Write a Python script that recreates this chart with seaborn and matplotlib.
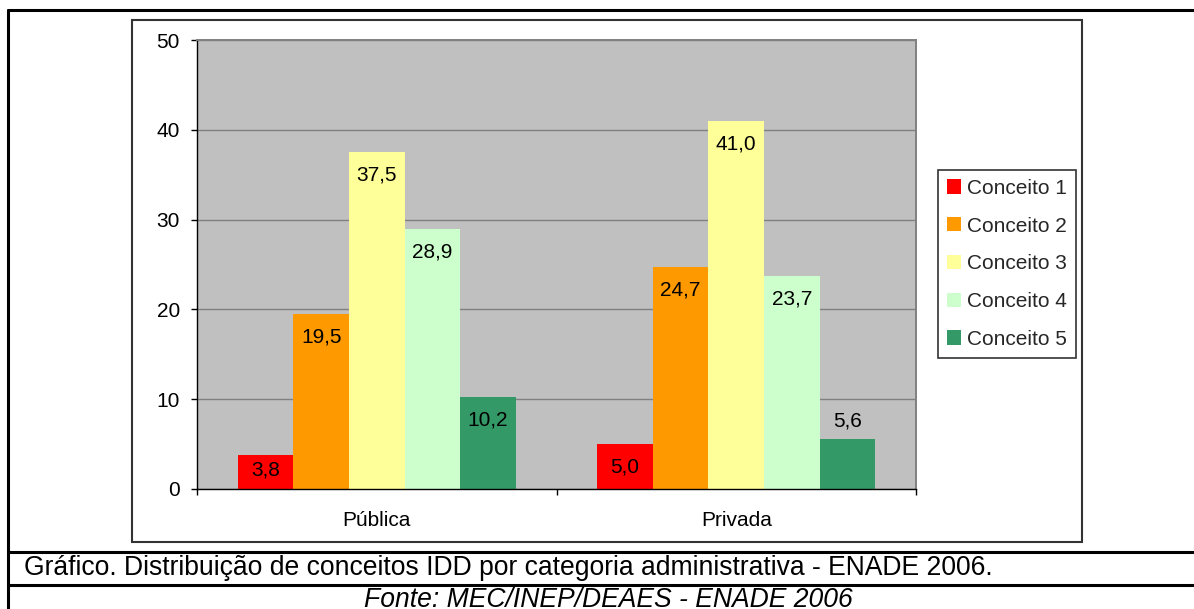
import matplotlib
matplotlib.use("Agg")
import matplotlib.pyplot as plt
from matplotlib.lines import Line2D
from matplotlib.patches import Rectangle
import seaborn as sns
import pandas as pd

#--------------------------------------- DATA ---------------------------------------#
categorias = ["Pública", "Privada"]
conceitos = ["Conceito 1", "Conceito 2", "Conceito 3", "Conceito 4", "Conceito 5"]
publica = [3.8, 19.5, 37.5, 28.9, 10.2]
privada = [5.0, 24.7, 41.0, 23.7, 5.6]
y_ticks = [0, 10, 20, 30, 40, 50]

titulo = "Gráfico. Distribuição de conceitos IDD por categoria administrativa - ENADE 2006."
fonte = "Fonte: MEC/INEP/DEAES - ENADE 2006"

#--------------------------------------- STYLE ---------------------------------------#
clr = ["#FF0000", "#FF9900", "#FFFF99", "#CCFFCC", "#339966"]
BG = "#C0C0C0"
GRID = "#808080"
W, H = 1194, 609
FS = 15
FS_CAP = 19.1

sns.set_theme(style="white")
plt.rcParams["font.family"] = ["Liberation Sans", "DejaVu Sans"]

rows = []
for cat, vals in zip(categorias, [publica, privada]):
    for c, v in zip(conceitos, vals):
        rows.append({"categoria": cat, "conceito": c, "valor": v})
df = pd.DataFrame(rows)

fig = plt.figure(figsize=(W / 100, H / 100), dpi=100)
fig.patch.set_facecolor("white")

def fx(px):
    return px / W

def fy(py):
    return 1 - py / H

ax = fig.add_axes([fx(197), fy(489), fx(916) - fx(197), fy(40) - fy(489)])
ax.set_facecolor(BG)

sns.barplot(data=df, x="categoria", y="valor", hue="conceito", hue_order=conceitos,
            order=categorias, palette=clr, saturation=1, width=0.773, linewidth=0,
            errorbar=None, ax=ax)

ax.set_ylim(0, 50)
ax.set_xlim(-0.5, 1.5)
ax.set_yticks(y_ticks)
ax.set_xlabel("")
ax.set_ylabel("")
ax.yaxis.grid(True, color=GRID, linewidth=1.0)
ax.set_axisbelow(True)

for s in ["top", "right"]:
    ax.spines[s].set_color(GRID)
    ax.spines[s].set_linewidth(1.4)
for s in ["left", "bottom"]:
    ax.spines[s].set_color("black")
    ax.spines[s].set_linewidth(1.0)

ax.tick_params(axis="y", direction="out", length=4.3, width=1, color="black",
               pad=8, labelsize=FS, left=True)
ax.tick_params(axis="x", which="major", length=0, pad=16, labelsize=FS)
ax.set_xticks([-0.5, 0.5, 1.5], minor=True)
ax.tick_params(axis="x", which="minor", direction="out", length=4.3, width=1,
               color="black", bottom=True)
for lab in ax.get_xticklabels() + ax.get_yticklabels():
    lab.set_color("black")

# data labels (Excel "inside end", except the one shown above its bar)
outside = [(1, 4)]
px_per_unit = 449 / 50
for i, cont in enumerate(ax.containers):
    for j, bar in enumerate(cont):
        h = bar.get_height()
        txt = ("%.1f" % h).replace(".", ",")
        xc = bar.get_x() + bar.get_width() / 2
        if (j, i) in outside:
            off = 18
        else:
            off = -min(23, h * px_per_unit - 19)
        ax.annotate(txt, (xc, h), xytext=(0, off), textcoords="offset pixels",
                    ha="center", va="center", fontsize=FS, color="black")

# legend
handles, labels = ax.get_legend_handles_labels()
if ax.get_legend() is not None:
    ax.get_legend().remove()
leg = fig.legend(handles, labels, loc="upper left",
                 bbox_to_anchor=(fx(938), fy(170)), bbox_transform=fig.transFigure,
                 borderaxespad=0, fontsize=FS, frameon=True, fancybox=False,
                 edgecolor="black", handlelength=0.68, handleheight=0.68,
                 handletextpad=0.3, labelspacing=0.9, borderpad=0.42)
leg.get_frame().set_linewidth(1.2)

# boxes and table lines around the chart
fig.add_artist(Rectangle((fx(132), fy(542)), fx(1082) - fx(132), fy(20) - fy(542),
                         transform=fig.transFigure, fill=False, edgecolor="#333333",
                         linewidth=1.5))
fig.add_artist(Line2D([fx(8), 1], [fy(10), fy(10)], transform=fig.transFigure,
                      color="black", linewidth=2.2))
fig.add_artist(Line2D([fx(8), fx(8)], [fy(10), 0], transform=fig.transFigure,
                      color="black", linewidth=2.2))
for yy in [552, 585]:
    fig.add_artist(Line2D([fx(8), 1], [fy(yy), fy(yy)], transform=fig.transFigure,
                          color="black", linewidth=2.2))

fig.text(fx(24), fy(568), titulo, ha="left", va="center", fontsize=FS_CAP, color="black")
fig.text(fx(608), fy(600), fonte, ha="center", va="center", fontsize=FS_CAP,
         style="italic", color="black")

plt.savefig("out.png", dpi=100)
